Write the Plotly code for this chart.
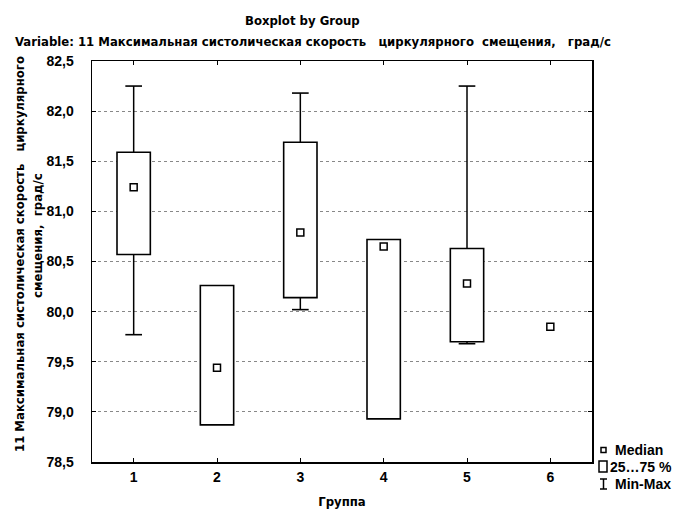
import plotly.graph_objects as go

groups = [1, 2, 3, 4, 5, 6]
q1 = [80.57, 78.87, 80.14, 78.93, 79.70, None]
q3 = [81.59, 80.26, 81.69, 80.72, 80.63, None]
medians = [81.24, 79.44, 80.79, 80.65, 80.28, 79.85]
mins = [79.77, 78.87, 80.02, 78.93, 79.68, None]
maxs = [82.25, 80.26, 82.18, 80.72, 82.25, None]

y_ticks = [78.5, 79.0, 79.5, 80.0, 80.5, 81.0, 81.5, 82.0, 82.5]
y_ticktext = ["78,5", "79,0", "79,5", "80,0", "80,5", "81,0", "81,5", "82,0", "82,5"]

title1 = "Boxplot by Group"
title2 = "Variable: 11 Максимальная систолическая скорость   циркулярного  смещения,   град/с"
ytitle1 = "11 Максимальная систолическая скорость   циркулярного"
ytitle2 = "смещения,  град/с"
xtitle = "Группа"
legend_labels = ["Median", "25…75 %", "Min-Max"]

FONT = "DejaVu Sans Condensed, Liberation Sans Narrow, Arial Narrow, sans-serif"
FONT2 = "Liberation Sans, Arial, sans-serif"

BOX_W = 0.4
CAP = 0.1

heights = [None if a is None else b - a for a, b in zip(q1, q3)]

# whisker segments (box edge -> extreme) and caps, built from the data
wx, wy, cx, cy = [], [], [], []
for g, a, b, lo, hi in zip(groups, q1, q3, mins, maxs):
    if a is None:
        continue
    if hi > b:
        wx += [g, g, None]
        wy += [b, hi, None]
        cx += [g - CAP, g + CAP, None]
        cy += [hi, hi, None]
    if lo < a:
        wx += [g, g, None]
        wy += [a, lo, None]
        cx += [g - CAP, g + CAP, None]
        cy += [lo, lo, None]

fig = go.Figure()

fig.add_trace(go.Bar(
    x=groups, y=heights, base=q1, width=BOX_W,
    marker=dict(color="white", line=dict(color="black", width=1.6)),
    name="25…75 %", hoverinfo="skip",
))
fig.add_trace(go.Scatter(
    x=wx, y=wy, mode="lines", line=dict(color="black", width=1.5),
    name="Min-Max", hoverinfo="skip",
))
fig.add_trace(go.Scatter(
    x=cx, y=cy, mode="lines", line=dict(color="black", width=1.6),
    name="Min-Max caps", hoverinfo="skip",
))
fig.add_trace(go.Scatter(
    x=groups, y=medians, mode="markers",
    marker=dict(symbol="square", size=7, color="white", line=dict(color="black", width=1.5)),
    name="Median", hoverinfo="skip",
))

L, R, T, B = 92, 93, 61, 47
PW, PH = 685 - L - R, 509 - T - B
BOT = 509 - B


def px(x):
    return (x - L) / PW


def py(y):
    return (BOT - y) / PH


shapes = [
    dict(type="rect", xref="paper", yref="paper", x0=px(601), x1=px(606), y0=py(447.5), y1=py(452.5),
         line=dict(color="black", width=1.5), fillcolor="white"),
    dict(type="rect", xref="paper", yref="paper", x0=px(599), x1=px(607), y0=py(461), y1=py(472),
         line=dict(color="black", width=1.5), fillcolor="white"),
    dict(type="line", xref="paper", yref="paper", x0=px(603.5), x1=px(603.5), y0=py(479), y1=py(489),
         line=dict(color="black", width=1.5)),
    dict(type="line", xref="paper", yref="paper", x0=px(600), x1=px(607), y0=py(479), y1=py(479),
         line=dict(color="black", width=1.5)),
    dict(type="line", xref="paper", yref="paper", x0=px(600), x1=px(607), y0=py(489), y1=py(489),
         line=dict(color="black", width=1.5)),
]

legend_font = dict(family=FONT2, size=14, weight="bold", color="black")
annotations = [
    dict(text=title1, xref="paper", yref="paper", x=px(302), y=py(20),
         xanchor="center", yanchor="middle", showarrow=False,
         font=dict(family=FONT, size=13, weight="bold")),
    dict(text=title2, xref="paper", yref="paper", x=px(313), y=py(42),
         xanchor="center", yanchor="middle", showarrow=False,
         font=dict(family=FONT, size=13, weight="bold")),
    dict(text=ytitle1, xref="paper", yref="paper", x=px(19), y=py(254),
         xanchor="center", yanchor="middle", showarrow=False, textangle=-90,
         font=dict(family=FONT, size=13, weight="bold")),
    dict(text=ytitle2, xref="paper", yref="paper", x=px(37), y=py(236),
         xanchor="center", yanchor="middle", showarrow=False, textangle=-90,
         font=dict(family=FONT, size=13, weight="bold")),
    dict(text=legend_labels[0], xref="paper", yref="paper", x=px(613), y=py(450),
         xanchor="left", yanchor="middle", showarrow=False, font=legend_font),
    dict(text=legend_labels[1], xref="paper", yref="paper", x=px(608), y=py(467),
         xanchor="left", yanchor="middle", showarrow=False, font=legend_font),
    dict(text=legend_labels[2], xref="paper", yref="paper", x=px(613), y=py(484),
         xanchor="left", yanchor="middle", showarrow=False, font=legend_font),
]

fig.update_layout(
    width=685, height=509,
    margin=dict(l=L, r=R, t=T, b=B, autoexpand=False),
    paper_bgcolor="white", plot_bgcolor="white",
    font=dict(family=FONT2, size=13, color="black"),
    showlegend=False,
    bargap=0,
    xaxis=dict(
        range=[0.5, 6.5], tickvals=groups, ticktext=[str(g) for g in groups],
        ticks="inside", ticklen=4, tickcolor="black", mirror="allticks",
        showline=True, linecolor="black", linewidth=1.5, showgrid=False, zeroline=False,
        tickfont=dict(family=FONT2, size=14, weight="bold"),
        ticklabelstandoff=2, automargin=False,
        title=dict(text=xtitle, font=dict(family=FONT, size=13, weight="bold"), standoff=14),
    ),
    yaxis=dict(
        range=[78.5, 82.5], tickvals=y_ticks, ticktext=y_ticktext,
        ticks="inside", ticklen=4, tickcolor="black", mirror="allticks",
        showline=True, linecolor="black", linewidth=1.5,
        showgrid=True, gridcolor="#888888", gridwidth=1, griddash="dot", zeroline=False,
        tickfont=dict(family=FONT2, size=14, weight="bold"),
        ticklabelstandoff=14, automargin=False,
    ),
    shapes=shapes,
    annotations=annotations,
)

fig.write_html(
    "out.html",
    config={"displayModeBar": False, "staticPlot": True},
    post_script="document.body.style.margin='0';document.body.style.overflow='hidden';"
                "document.documentElement.style.overflow='hidden';",
)
